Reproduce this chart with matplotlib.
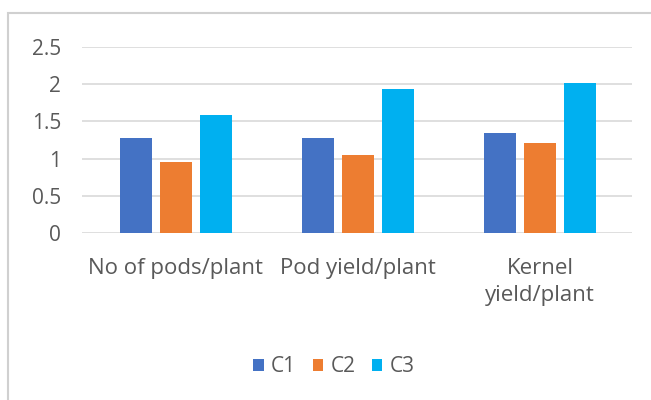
import numpy as np
import matplotlib.pyplot as plt
from matplotlib.patches import Rectangle

# data
categories = ["No of pods/plant", "Pod yield/plant", "Kernel\nyield/plant"]
series = ["C1", "C2", "C3"]
c1 = [1.28, 1.28, 1.34]
c2 = [0.95, 1.05, 1.21]
c3 = [1.59, 1.93, 2.01]
colors = ["#4472C4", "#ED7D31", "#00B0F0"]

plt.rcParams['font.family'] = ['Open Sans', 'DejaVu Sans']

fig = plt.figure(figsize=(6.51, 4.0), dpi=100)
fig.patches.append(Rectangle((0.013, -0.01), 0.99, 0.977, transform=fig.transFigure,
                             fill=False, edgecolor="#D0D0D0", linewidth=1.5))
ax = fig.add_axes([0.126, 0.4175, 0.845, 0.465])

x = np.arange(len(categories))
width = 0.176
offset = 0.22
for i, (vals, name) in enumerate(zip([c1, c2, c3], series)):
    ax.bar(x + (i - 1) * offset, vals, width, color=colors[i], label=name, zorder=3)

ax.set_xlim(-0.516, 2.505)
ax.set_ylim(0, 2.5)
ax.set_yticks([0, 0.5, 1, 1.5, 2, 2.5])
ax.set_yticklabels(["0", "0.5", "1", "1.5", "2", "2.5"])
ax.set_xticks(x)
ax.set_xticklabels(categories, va="top", linespacing=1.4)
ax.tick_params(axis="both", length=0, colors="#595959")
ax.tick_params(axis="x", pad=18, labelsize=16)
ax.tick_params(axis="y", pad=15, labelsize=15)
ax.grid(axis="y", color="#D9D9D9", linewidth=1.2, zorder=0)
for s in ax.spines.values():
    s.set_visible(False)

handles, labels = ax.get_legend_handles_labels()
fig.legend(handles, labels, loc="center", bbox_to_anchor=(0.513, 0.083),
           ncol=3, frameon=False, fontsize=15, handlelength=0.5, handleheight=0.5,
           handletextpad=0.35, columnspacing=0.8, labelcolor="#595959")

fig.savefig("out.png", dpi=100)
